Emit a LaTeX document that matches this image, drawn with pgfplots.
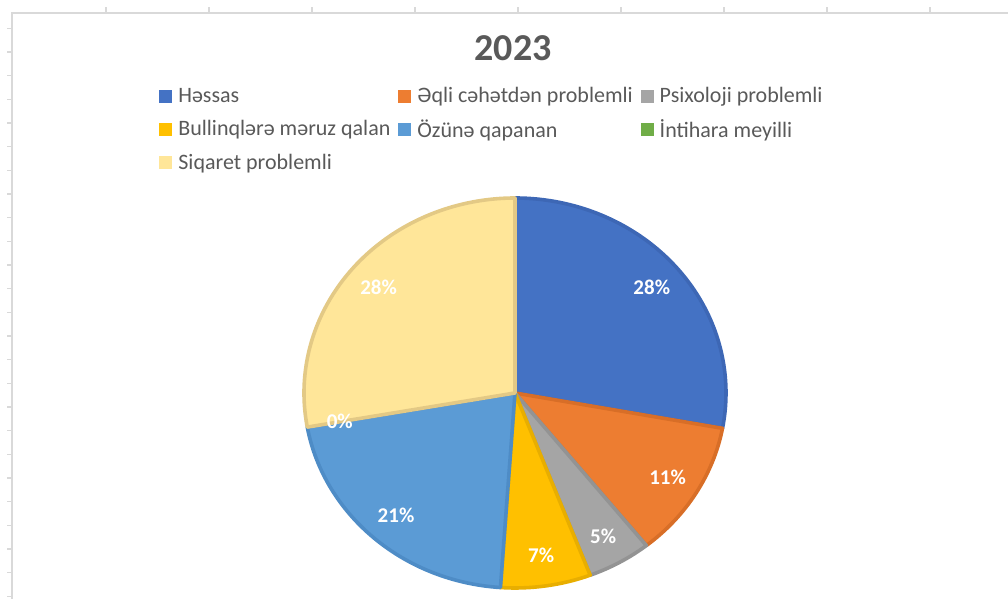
\documentclass[border=0pt]{standalone}
\usepackage{fontspec}
\setmainfont{Carlito}
\usepackage{pgfplots}
\usepackage{pgfplotstable}
\pgfplotsset{compat=1.18}
\usetikzlibrary{calc}

\definecolor{txt}{HTML}{595959}
\definecolor{grid}{HTML}{D9D9D9}
% slice fills and their darker borders
\definecolor{cA}{HTML}{4472C4}\definecolor{bA}{HTML}{3D67B5}
\definecolor{cB}{HTML}{ED7D31}\definecolor{bB}{HTML}{D86E27}
\definecolor{cC}{HTML}{A5A5A5}\definecolor{bC}{HTML}{939393}
\definecolor{cD}{HTML}{FFC000}\definecolor{bD}{HTML}{E8AE00}
\definecolor{cE}{HTML}{5B9BD5}\definecolor{bE}{HTML}{4E8CC6}
\definecolor{cF}{HTML}{70AD47}\definecolor{bF}{HTML}{629C3C}
\definecolor{cG}{HTML}{FFE699}\definecolor{bG}{HTML}{E3C985}

% share of each group, percent
\pgfplotstableread{
idx value
0 27.9
1 11.4
2 4.9
3 6.9
4 21.1
5 0
6 27.8
}\piedata

\begin{document}
\begin{tikzpicture}
\begin{axis}[
  scale only axis, width=504pt, height=299.5pt,
  xmin=0, xmax=1008, ymin=0, ymax=599,
  hide axis,
  legend columns=3,
  legend cell align=left,
  legend image code/.code={\fill[#1, draw=none] (0pt,-3.25pt) rectangle (6.5pt,3.25pt);},
  legend style={draw=none, fill=none, text=txt, font=\fontsize{11}{13}\selectfont,
    at={(axis cs:159,514)}, anchor=north west, inner sep=0pt,
    row sep=4.8pt,
    nodes={inner xsep=3pt, inner ysep=1pt},
    /tikz/every even column/.append style={column sep=1pt}},
]
\addlegendimage{fill=cA}\addlegendentry{Həssas}
\addlegendimage{fill=cB}\addlegendentry{Əqli cəhətdən problemli}
\addlegendimage{fill=cC}\addlegendentry{Psixoloji problemli}
\addlegendimage{fill=cD}\addlegendentry{Bullinqlərə məruz qalan}
\addlegendimage{fill=cE}\addlegendentry{Özünə qapanan}
\addlegendimage{fill=cF}\addlegendentry{İntihara meyilli}
\addlegendimage{fill=cG}\addlegendentry{Siqaret problemli}

\pgfplotsextra{
  % sheet grid behind the chart
  \draw[grid, line width=0.7pt] (axis cs:12,0) -- (axis cs:12,586) -- (axis cs:1008,586);
  \foreach \x in {106,209,312,415,518,621,724,827,930}
    \draw[grid, line width=0.7pt] (axis cs:\x,586) -- (axis cs:\x,592);
  \foreach \k in {0,...,24} {
    \pgfmathsetmacro\yy{599-28.3-23.67*\k}
    \draw[grid, line width=0.7pt] (axis cs:7,\yy) -- (axis cs:12,\yy);
  }
  % wedges
  \gdef\cum{0}
  \foreach \i/\fc/\bc in {0/cA/bA,1/cB/bB,2/cC/bC,3/cD/bD,4/cE/bE,5/cF/bF,6/cG/bG} {
    \pgfplotstablegetelem{\i}{value}\of\piedata
    \let\v\pgfplotsretval
    \pgfmathsetmacro\a{90-3.6*\cum}
    \pgfmathsetmacro\b{90-3.6*(\cum+\v)}
    \pgfmathparse{\v>0}
    \ifnum\pgfmathresult=1
      \filldraw[fill=\fc, draw=\bc, line width=1.8pt, line join=round]
        (axis cs:515,206) -- ++(\a:105.5pt and 97.5pt)
        arc[start angle=\a, end angle=\b, x radius=105.5pt, y radius=97.5pt] -- cycle;
    \fi
    \pgfmathsetmacro\c{\cum+\v}\xdef\cum{\c}
  }
  % percent labels
  \gdef\cum{0}
  \foreach \i in {0,...,6} {
    \pgfplotstablegetelem{\i}{value}\of\piedata
    \let\v\pgfplotsretval
    \pgfmathsetmacro\m{90-3.6*(\cum+\v/2)}
    \node[text=white, font=\bfseries\fontsize{10.5}{12}\selectfont]
      at ($(axis cs:515,206)+(\m:89pt and 82.3pt)$)
      {\pgfmathprintnumber[fixed, precision=0, assume math mode=true]{\v}\%};
    \pgfmathsetmacro\c{\cum+\v}\xdef\cum{\c}
  }
  \node[text=txt, font=\bfseries\fontsize{19}{22}\selectfont]
    at (axis cs:513,551) {2023};
}
\end{axis}
\pgfresetboundingbox
\path (current axis.south west) rectangle (current axis.north east);
\end{tikzpicture}
\end{document}
